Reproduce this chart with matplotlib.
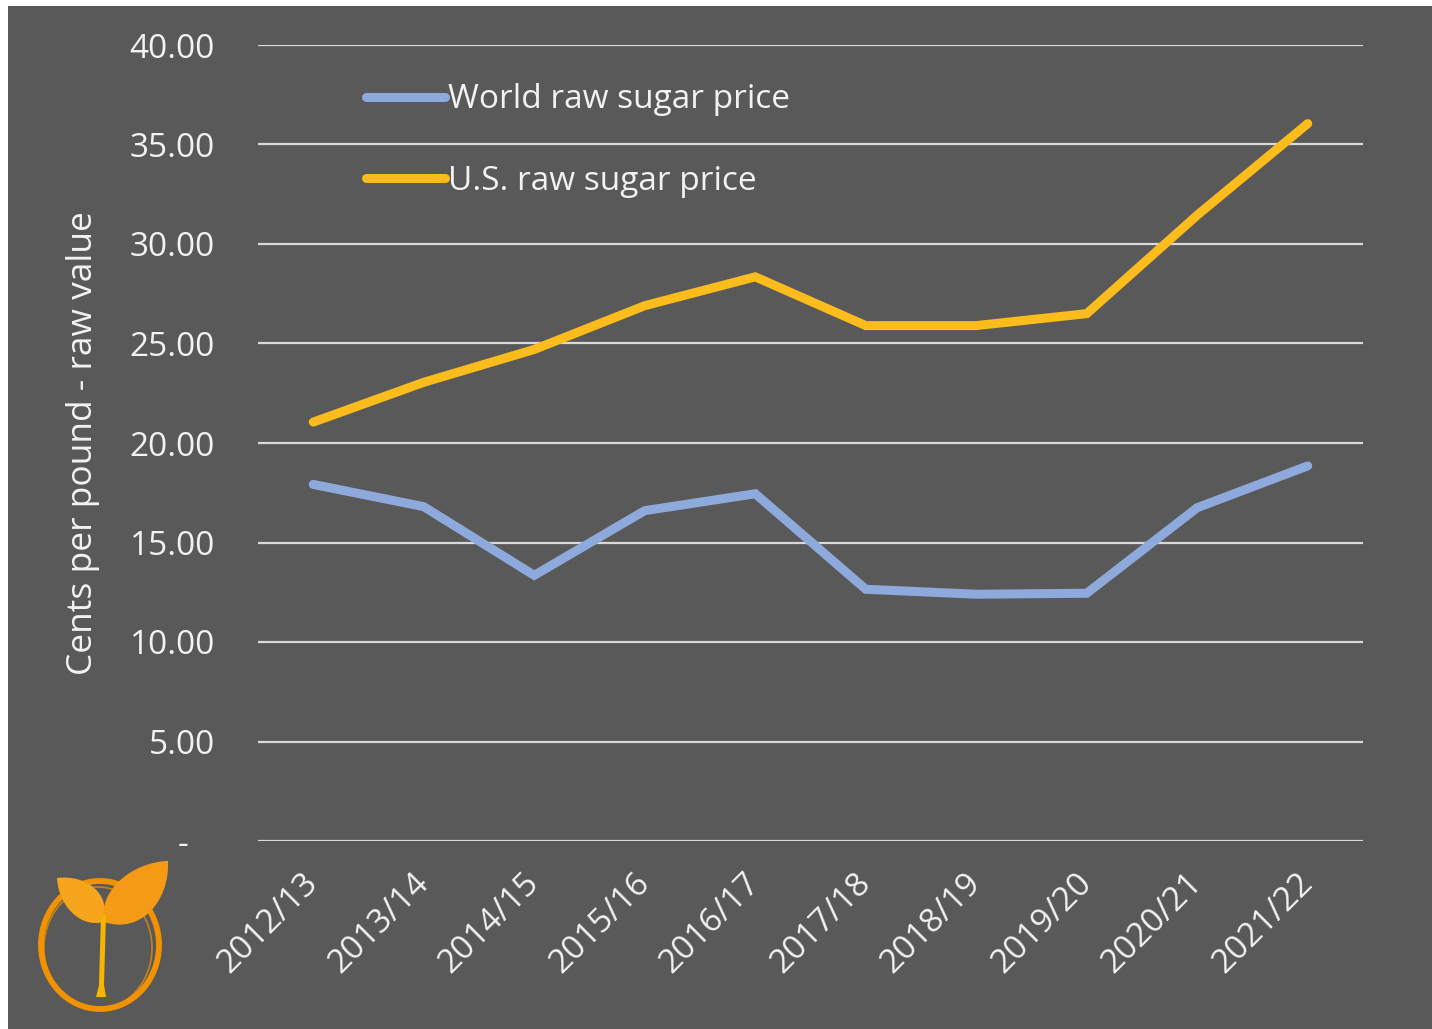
import numpy as np
import matplotlib.pyplot as plt
from matplotlib.path import Path
from matplotlib.patches import PathPatch, Ellipse, Rectangle, Polygon
from matplotlib.ticker import FuncFormatter

plt.rcParams['font.family'] = ['Open Sans', 'DejaVu Sans']

seasons = ['2012/13', '2013/14', '2014/15', '2015/16', '2016/17',
           '2017/18', '2018/19', '2019/20', '2020/21', '2021/22']
world_price = [17.92, 16.80, 13.35, 16.60, 17.45, 12.65, 12.40, 12.45, 16.75, 18.85]
us_price = [21.05, 23.05, 24.70, 26.90, 28.35, 25.90, 25.90, 26.50, 31.45, 36.05]
labels = ['World raw sugar price', 'U.S. raw sugar price']

BG = '#595959'
TXT = '#F2F2F2'
FS = 24

fig = plt.figure(figsize=(14.32, 10.29), dpi=100)
fig.patch.set_facecolor(BG)
# thin white margin top/left like the screenshot
fig.patches.append(Rectangle((0, 0), 8 / 1432, 1, transform=fig.transFigure,
                             facecolor='white', edgecolor='none'))
fig.patches.append(Rectangle((0, 1 - 6 / 1029), 1, 6 / 1029,
                             transform=fig.transFigure, facecolor='white',
                             edgecolor='none'))

ax = fig.add_axes([258 / 1432, 1 - 841 / 1029, 1105 / 1432, 796 / 1029])
ax.set_facecolor('none')

x = np.arange(len(seasons))
ax.plot(x, world_price, color='#8EA9DB', lw=6.5, solid_capstyle='round',
        solid_joinstyle='miter', label=labels[0], zorder=3)
ax.plot(x, us_price, color='#FBBC1C', lw=6.5, solid_capstyle='round',
        solid_joinstyle='miter', label=labels[1], zorder=3)

ax.set_xlim(-0.5, len(seasons) - 0.5)
ax.set_ylim(0, 40)
ax.set_yticks(np.arange(0, 41, 5))
ax.yaxis.set_major_formatter(
    FuncFormatter(lambda v, p: '-   ' if v == 0 else f'{v:.2f}'))
ax.grid(axis='y', color='#D9D9D9', lw=1.6)
ax.set_axisbelow(True)
for s in ax.spines.values():
    s.set_visible(False)

ax.tick_params(axis='y', length=0, pad=31, labelsize=FS, labelcolor=TXT)
ax.tick_params(axis='x', length=0, pad=27, labelsize=FS, labelcolor=TXT)
ax.set_xticks(x)
ax.set_xticklabels(seasons, rotation=45, ha='right', va='center',
                   rotation_mode='anchor')

ax.set_ylabel('Cents per pound - raw value', fontsize=FS + 1.5, color=TXT,
              labelpad=21)

leg = ax.legend(loc='upper left', bbox_to_anchor=(0.098, 0.952),
                frameon=False, fontsize=FS, labelcolor=TXT,
                handlelength=2.35, handletextpad=0.1, labelspacing=1.45,
                borderpad=0, borderaxespad=0)

# logo, drawn in pixel coords of the image
lg = fig.add_axes([0, 0, 200 / 1432, 200 / 1029])
lg.set_xlim(0, 200)
lg.set_ylim(1029, 829)
lg.axis('off')
lg.add_patch(Ellipse((100, 945), 118, 128, fill=False, ec='#F39200', lw=4.2))
lg.add_patch(Ellipse((98, 948), 108, 122, fill=False, ec='#F39200', lw=1.2,
                     alpha=0.7))


def leaf(base, tip, w, color):
    b = np.array(base, float)
    t = np.array(tip, float)
    d = t - b
    n = np.array([-d[1], d[0]]) / np.hypot(*d)
    pts = [b, b + 0.2 * d + w * n, b + 0.7 * d + 0.9 * w * n, t,
           b + 0.7 * d - 0.7 * w * n, b + 0.2 * d - 0.8 * w * n, b]
    codes = [Path.MOVETO, Path.CURVE4, Path.CURVE4, Path.CURVE4,
             Path.CURVE4, Path.CURVE4, Path.CURVE4]
    lg.add_patch(PathPatch(Path(pts, codes), fc=color, ec='none', zorder=3))


leaf((103, 922), (57, 878), 26, '#F8A51E')
leaf((104, 922), (168, 861), 34, '#F59A14')
lg.add_patch(Polygon([(101, 915), (106, 915), (104, 985), (106, 997),
                      (96, 997), (99, 985)], closed=True, fc='#F7B500',
                     ec='none', zorder=3))

fig.savefig('out.png', dpi=100, facecolor=fig.get_facecolor())
